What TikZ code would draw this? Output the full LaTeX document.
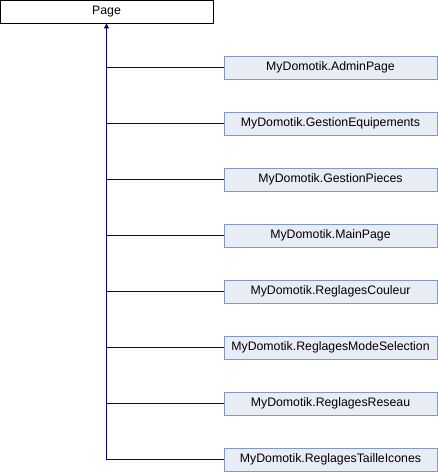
\documentclass[tikz,border=0pt]{standalone}
\usepackage{fontspec}
\setmainfont{Liberation Sans}
\usepackage{tikz}
\usetikzlibrary{arrows.meta}

\definecolor{edgeblue}{RGB}{0,0,128}
\definecolor{boxfill}{RGB}{232,236,245}
\definecolor{boxline}{RGB}{132,150,200}

\begin{document}
\begin{tikzpicture}[x=1pt, y=-1pt, every node/.style={font=\fontsize{12.3}{14}\selectfont},
	base/.style={draw=black, fill=white, line width=0.8pt, minimum width=213pt, minimum height=23pt, inner sep=0pt},
	derived/.style={draw=boxline, fill=boxfill, line width=0.8pt, minimum width=213pt, minimum height=23pt, inner sep=0pt},
	inherit/.style={draw=edgeblue, line width=0.8pt}]
	\useasboundingbox (0,0) rectangle (438,472);
	\node[base] (Page) at (106.5,11.5) {Page};
	\foreach \cls [count=\i] in {AdminPage, GestionEquipements, GestionPieces, MainPage, ReglagesCouleur, ReglagesModeSelection, ReglagesReseau, ReglagesTailleIcones} {
		\node[derived] (\cls) at (330.5,{67.5+56*(\i-1)}) {MyDomotik.\cls};
		\draw[inherit] (Page.south |- \cls.west) -- (\cls.west);
	}
	\draw[inherit, -{Triangle[width=5pt,length=5pt]}] (Page.south |- ReglagesTailleIcones.west) -- (Page.south);
\end{tikzpicture}
\end{document}
